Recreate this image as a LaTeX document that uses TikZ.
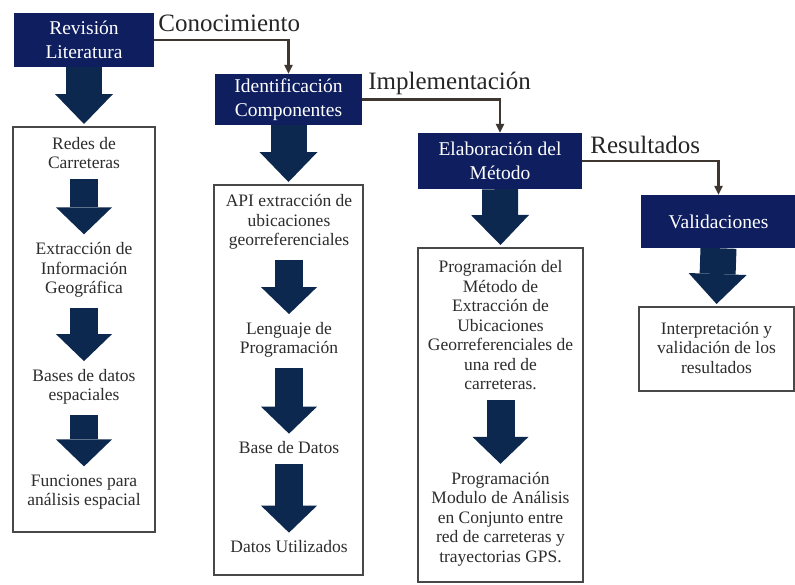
\documentclass[tikz,border=0pt]{standalone}
\usepackage{fontspec}
\setmainfont{Liberation Serif}
\usetikzlibrary{arrows.meta,calc}

\definecolor{headblue}{RGB}{14,30,95}
\definecolor{arrowblue}{RGB}{12,40,78}
\definecolor{linkgray}{RGB}{62,54,48}
\definecolor{boxgray}{RGB}{72,72,72}
\definecolor{txtgray}{RGB}{45,45,45}

\tikzset{
	head/.style={fill=headblue, text=white, align=center, font=\fontsize{19.5}{24}\selectfont, inner sep=0pt},
	frame/.style={draw=boxgray, line width=2pt, fill=white, inner sep=0pt},
	item/.style={align=center, text=txtgray, font=\fontsize{17.5}{19.5}\selectfont, inner sep=2pt},
	lab/.style={text=black!85, font=\fontsize{25}{30}\selectfont, inner sep=0pt},
	link/.style={draw=linkgray, line width=2.2pt, -{Triangle[width=8pt,length=9pt]}},
	fat/.style={draw=arrowblue, line width=36pt, shorten >=2pt, -{Triangle[width=58pt,length=30pt,line width=0pt]}},
	slim/.style={draw=arrowblue, line width=28pt, shorten <=8pt, shorten >=6pt, -{Triangle[width=56pt,length=27pt,line width=0pt]}}
}

\begin{document}
\begin{tikzpicture}[x=1pt, y=-1pt]
	\useasboundingbox (0,0) rectangle (795,584);

	% headers
	\node[head, minimum width=140pt, minimum height=54pt] (rev) at (84,40) {Revisión\\Literatura};
	\node[head, minimum width=147pt, minimum height=51pt] (ident) at (288.5,99.5) {Identificación\\Componentes};
	\node[head, minimum width=164pt, minimum height=56pt] (elab) at (500,161) {Elaboración del\\Método};
	\node[head, minimum width=155pt, minimum height=53pt] (valid) at (718.5,221.5) {Validaciones};

	% frames
	\node[frame, minimum width=142pt, minimum height=405pt] (colA) at (84,329.5) {};
	\node[frame, minimum width=149pt, minimum height=390pt] (colB) at (288.5,380) {};
	\node[frame, minimum width=165pt, minimum height=334pt] (colC) at (500.5,415) {};
	\node[frame, minimum width=155pt, minimum height=84pt] (colD) at (716.5,349) {};

	\draw[link] (rev.east) -| (ident.north);
	\draw[link] (ident.east) -| (elab.north);
	\draw[link] (elab.east) -| (valid.north);
	\node[lab, anchor=base west] (conoc) at ($(rev.east)+(4,-9)$) {Conocimiento};
	\node[lab, anchor=base west] (impl) at ($(ident.east)+(6,-10)$) {Implementación};
	\node[lab, anchor=base west] (result) at ($(elab.east)+(8,-8)$) {Resultados};

	\draw[fat] (rev.south) -- (colA.north);
	\draw[fat] (ident.south) -- (colB.north);
	\draw[fat] (elab.south) -- (colC.north);
	\draw[fat] (valid.south) -- (colD.north);

	% first column
	\node[item] (redes) at (84,153) {Redes de\\Carreteras};
	\node[item] (extr) at (84,270) {Extracción de\\Información\\Geográfica};
	\node[item] (bases) at (84,387) {Bases de datos\\espaciales};
	\node[item] (func) at (84,492) {Funciones para\\análisis espacial};
	\draw[slim] (redes.south) -- (extr.north);
	\draw[slim] (extr.south) -- (bases.north);
	\draw[slim] (bases.south) -- (func.north);

	% second column
	\node[item] (api) at (289,222) {API extracción de\\ubicaciones\\georreferenciales};
	\node[item] (leng) at (289,340) {Lenguaje de\\Programación};
	\node[item] (based) at (289,448) {Base de Datos};
	\node[item] (datos) at (289,547) {Datos Utilizados};
	\draw[slim] (api.south) -- (leng.north);
	\draw[slim] (leng.south) -- (based.north);
	\draw[slim] (based.south) -- (datos.north);

	% third column
	\node[item] (progA) at (500.5,325.5) {Programación del\\Método de\\Extracción de\\Ubicaciones\\Georreferenciales de\\una red de\\carreteras.};
	\node[item] (progB) at (500.5,519) {Programación\\Modulo de Análisis\\en Conjunto entre\\red de carreteras y\\trayectorias GPS.};
	\draw[slim] (progA.south) -- (progB.north);

	% fourth column
	\node[item] (interp) at (716.5,347.5) {Interpretación y\\validación de los\\resultados};
\end{tikzpicture}
\end{document}
